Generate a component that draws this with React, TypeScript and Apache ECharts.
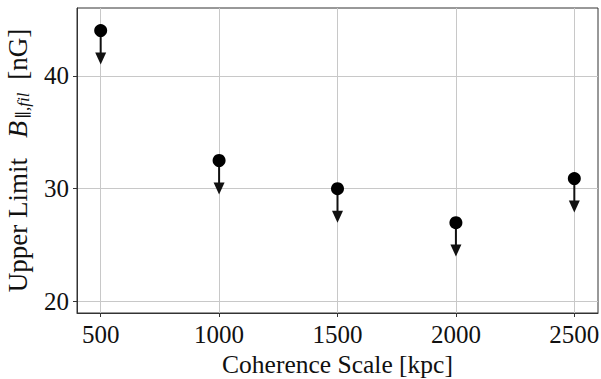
import React, { useEffect, useRef } from "react";
import * as echarts from "echarts";

const coherenceScales = [500, 1000, 1500, 2000, 2500];
const upperLimits = [44.0, 32.5, 30.0, 27.0, 30.9];
const arrowLength = 3;
const xTicks = [500, 1000, 1500, 2000, 2500];
const yTicks = [20, 30, 40];

const FONT = "'Liberation Serif', 'DejaVu Serif', serif";

export default function App() {
  const ref = useRef<HTMLDivElement>(null);
  useEffect(() => {
    if (!ref.current) return;
    const chart = echarts.init(ref.current, undefined, { renderer: "svg" });
    const points = coherenceScales.map((x, i) => [x, upperLimits[i]]);
    const arrows = coherenceScales.map((x, i) => [x, upperLimits[i], upperLimits[i] - arrowLength]);
    chart.setOption({
      animation: false,
      grid: {
        left: 77,
        top: 8,
        right: 3,
        bottom: 66,
        show: true,
        borderColor: "#333",
        borderWidth: 1,
        containLabel: false,
        outerBoundsMode: "none",
      },
      xAxis: {
        type: "value",
        min: 400,
        max: 2600,
        name: "Coherence Scale [kpc]",
        nameLocation: "middle",
        nameGap: 38,
        nameTextStyle: { fontFamily: FONT, fontSize: 25.5, color: "#111" },
        axisLine: { show: true, onZero: false, lineStyle: { color: "#333" } },
        axisTick: { show: true, length: 4, customValues: xTicks, lineStyle: { color: "#333" } },
        axisLabel: {
          customValues: xTicks,
          formatter: (v: number) => String(v),
          fontFamily: FONT,
          fontSize: 25,
          color: "#111",
          margin: 9,
        },
        splitLine: { show: true, lineStyle: { color: "#c8c8c8", width: 1 } },
      },
      yAxis: {
        type: "value",
        min: 19,
        max: 46,
        name: "{n|Upper Limit}{b|B}{s|∥,fil}{n| [nG]}",
        nameLocation: "middle",
        nameGap: 45,
        nameTextStyle: {
          fontFamily: FONT,
          fontSize: 27,
          color: "#111",
          rich: {
            n: { fontFamily: FONT, fontSize: 27, color: "#111" },
            b: { fontFamily: FONT, fontSize: 28, fontStyle: "italic", color: "#111", padding: [0, 2, 0, 20] },
            s: { fontFamily: FONT, fontSize: 17, fontStyle: "italic", color: "#111", verticalAlign: "bottom", padding: [12, 6, 0, 0] },
          },
        },
        axisLine: { show: true, onZero: false, lineStyle: { color: "#333" } },
        axisTick: { show: true, length: 4, customValues: yTicks, lineStyle: { color: "#333" } },
        axisLabel: {
          customValues: yTicks,
          formatter: (v: number) => String(v),
          fontFamily: FONT,
          fontSize: 25,
          color: "#111",
          margin: 8,
        },
        splitLine: { show: true, lineStyle: { color: "#c8c8c8", width: 1 } },
      },
      series: [
        {
          type: "custom",
          data: arrows,
          z: 2,
          renderItem: (params: any, api: any) => {
            const x = api.value(0);
            const y = api.value(1);
            const t = api.value(2);
            const p = api.coord([x, y]);
            const q = api.coord([x, t]);
            const headH = 12;
            const headW = 11;
            return {
              type: "group",
              children: [
                {
                  type: "line",
                  shape: { x1: p[0], y1: p[1], x2: q[0], y2: q[1] - headH + 1 },
                  style: { stroke: "#111", lineWidth: 2 },
                },
                {
                  type: "polygon",
                  shape: {
                    points: [
                      [q[0] - headW / 2, q[1] - headH],
                      [q[0] + headW / 2, q[1] - headH],
                      [q[0], q[1]],
                    ],
                  },
                  style: { fill: "#111" },
                },
              ],
            };
          },
        },
        {
          type: "scatter",
          data: points,
          symbol: "circle",
          symbolSize: 13,
          z: 3,
          itemStyle: { color: "#000", opacity: 1 },
        },
      ],
    });
    return () => chart.dispose();
  }, []);
  return <div ref={ref} style={{ width: 601, height: 379, position: "absolute", left: 0, top: 0 }} />;
}
